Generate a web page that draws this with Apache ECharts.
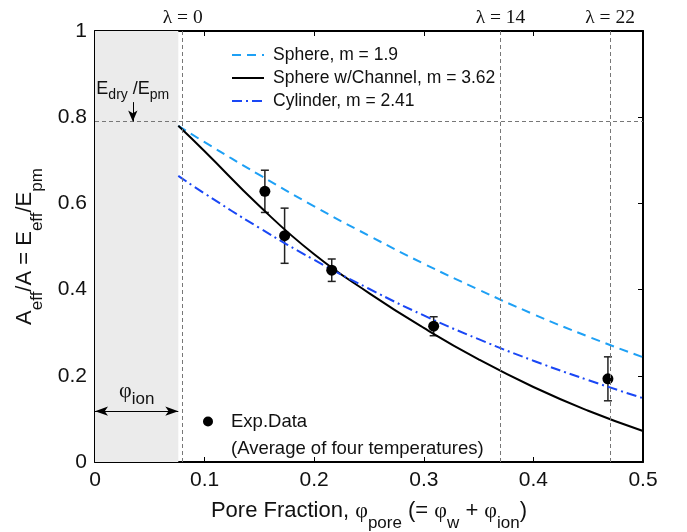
<!DOCTYPE html>
<html>
<head>
<meta charset="utf-8">
<script src="https://cdn.jsdelivr.net/npm/echarts@6/dist/echarts.min.js"></script>
<style>
  html, body { margin: 0; padding: 0; background: #fff; }
  #chart { width: 687px; height: 532px; }
</style>
</head>
<body>
<div id="chart"></div>
<script>
// model curves
const curveX = [0.076, 0.1, 0.15, 0.2, 0.25, 0.3, 0.35, 0.4, 0.45, 0.5]
const sphere = [0.78, 0.742, 0.666, 0.593, 0.525, 0.460, 0.400, 0.343, 0.291, 0.243]
const channel = [0.78, 0.721, 0.594, 0.482, 0.392, 0.311, 0.238, 0.174, 0.119, 0.072]
const cylinder = [0.664, 0.623, 0.543, 0.469, 0.402, 0.340, 0.285, 0.235, 0.190, 0.148]

// experimental averages with error bars
const expX = [0.155, 0.173, 0.216, 0.309, 0.468]
const expY = [0.628, 0.525, 0.445, 0.315, 0.193]
const expLo = [0.579, 0.461, 0.419, 0.293, 0.142]
const expHi = [0.677, 0.589, 0.471, 0.337, 0.244]

// reference lines
const lambdaX = [0.076, 0.37, 0.469]
const lambdaLabels = ['λ = 0', 'λ = 14', 'λ = 22']
const dryRatio = 0.788
const ionFraction = 0.076

const xTicks = { min: 0, max: 0.5, interval: 0.1 }
const yTicks = { min: 0, max: 1, interval: 0.2 }

const FONT = 'Liberation Sans'
const SERIF = 'Liberation Serif'

const zip = (xs, ys) => xs.map((x, i) => [x, ys[i]])

// subscripts: the small token sits at the bottom of a taller line
const titleRich = {
  m: { fontSize: 22, fontFamily: FONT, lineHeight: 22, verticalAlign: 'top', color: '#111' },
  g: { fontSize: 22, fontFamily: SERIF, lineHeight: 22, verticalAlign: 'top', color: '#111' },
  s: { fontSize: 17, fontFamily: FONT, lineHeight: 32, verticalAlign: 'bottom', color: '#111' },
}

const chart = echarts.init(document.getElementById('chart'))

const frameAxis = {
  type: 'value',
  axisLine: { show: true, onZero: false, lineStyle: { color: '#000', width: 2 } },
  axisTick: { show: true, inside: true, length: 5, lineStyle: { color: '#000', width: 1 } },
  splitLine: { show: false },
}

chart.setOption({
  animation: false,
  backgroundColor: '#fff',
  grid: { left: 95, right: 44, top: 31, bottom: 70, containLabel: false, outerBoundsMode: 'none' },
  legend: [
    {
      data: ['Sphere, m = 1.9', 'Sphere w/Channel, m = 3.62', 'Cylinder, m = 2.41'],
      orient: 'vertical',
      left: 226,
      top: 41,
      itemWidth: 32,
      itemHeight: 14,
      itemGap: 5,
      itemStyle: { color: 'transparent', borderColor: 'transparent', borderWidth: 0 },
      textStyle: { fontSize: 17.5, fontFamily: FONT, color: '#111', padding: [0, 0, 0, 4] },
    },
    {
      data: [{ name: 'Exp.Data', icon: 'circle' }],
      left: 198,
      top: 376,
      itemWidth: 10,
      itemHeight: 10,
      formatter: () => '\u00a0\nExp.Data\n(Average of four temperatures)',
      textStyle: { fontSize: 18.5, fontFamily: FONT, color: '#111', lineHeight: 27, padding: [0, 0, 0, 13] },
    },
  ],
  xAxis: [
    Object.assign({}, frameAxis, {
      ...xTicks,
      position: 'bottom',
      axisLabel: { fontSize: 21, fontFamily: FONT, color: '#111', margin: 8 },
      name: '{m|Pore Fraction, }{g|φ}{s|pore}{m| (= }{g|φ}{s|w}{m| + }{g|φ}{s|ion}{m|)}',
      nameLocation: 'middle',
      nameGap: 38,
      nameTextStyle: { rich: titleRich },
    }),
    Object.assign({}, frameAxis, { ...xTicks, position: 'top', axisLabel: { show: false } }),
  ],
  yAxis: [
    Object.assign({}, frameAxis, {
      ...yTicks,
      position: 'left',
      axisLabel: { fontSize: 21, fontFamily: FONT, color: '#111', margin: 8 },
      name: '{m|A}{s|eff}{m|/A = E}{s|eff}{m|/E}{s|pm}',
      nameLocation: 'middle',
      nameRotate: 90,
      nameGap: 49,
      nameTextStyle: { rich: titleRich },
    }),
    Object.assign({}, frameAxis, { ...yTicks, position: 'right', axisLabel: { show: false } }),
  ],
  series: [
    {
      // guides, shaded ionomer region and annotations
      name: 'guides',
      type: 'line',
      data: [],
      silent: true,
      markArea: {
        silent: true,
        itemStyle: { color: '#ebebeb' },
        data: [[{ xAxis: 0 }, { xAxis: ionFraction }]],
      },
      markLine: {
        silent: true,
        symbol: 'none',
        lineStyle: { color: '#777', width: 1, type: [4, 3] },
        label: { show: false },
        data: [
          ...lambdaX.map((x, i) => ({
            xAxis: x,
            label: {
              show: true,
              position: 'end',
              distance: 3,
              formatter: lambdaLabels[i],
              fontFamily: SERIF,
              fontSize: 19.5,
              color: '#111',
            },
          })),
          { yAxis: dryRatio },
          [
            {
              coord: [0.0345, 0.835],
              symbol: 'none',
              lineStyle: { color: '#000', type: 'solid', width: 1 },
              label: {
                show: true,
                position: 'start',
                distance: 0,
                formatter: '{m|E}{s|dry}{m| /E}{s|pm}',
                rich: {
                  m: { fontSize: 18, fontFamily: FONT, lineHeight: 18, verticalAlign: 'top', color: '#111' },
                  s: { fontSize: 14, fontFamily: FONT, lineHeight: 22, verticalAlign: 'bottom', color: '#111' },
                },
              },
            },
            { coord: [0.0345, 0.79], symbol: 'arrow', symbolSize: [7, 11] },
          ],
          [
            {
              coord: [0, 0.118],
              symbol: 'arrow',
              symbolSize: [7, 13],
              lineStyle: { color: '#000', type: 'solid', width: 1 },
              label: {
                show: true,
                position: 'insideMiddleTop',
                distance: 3,
                formatter: '{g|φ}{s|ion}',
                rich: {
                  g: { fontSize: 22, fontFamily: SERIF, lineHeight: 22, verticalAlign: 'top', color: '#111' },
                  s: { fontSize: 17, fontFamily: FONT, lineHeight: 28, verticalAlign: 'bottom', color: '#111' },
                },
              },
            },
            { coord: [ionFraction, 0.118], symbol: 'arrow', symbolSize: [7, 13] },
          ],
        ],
      },
    },
    {
      name: 'Sphere, m = 1.9',
      type: 'line',
      data: zip(curveX, sphere),
      smooth: true,
      symbol: 'none',
      lineStyle: { color: '#1ea0f5', width: 2, type: [9, 6] },
      itemStyle: { color: '#1ea0f5' },
    },
    {
      name: 'Sphere w/Channel, m = 3.62',
      type: 'line',
      data: zip(curveX, channel),
      smooth: true,
      symbol: 'none',
      lineStyle: { color: '#000', width: 2 },
      itemStyle: { color: '#000' },
    },
    {
      name: 'Cylinder, m = 2.41',
      type: 'line',
      data: zip(curveX, cylinder),
      smooth: true,
      symbol: 'none',
      lineStyle: { color: '#1a47f5', width: 2, type: [10, 4, 2, 4] },
      itemStyle: { color: '#1a47f5' },
    },
    {
      name: 'errors',
      type: 'custom',
      silent: true,
      data: expX.map((x, i) => [x, expLo[i], expHi[i]]),
      renderItem: (params, api) => {
        const top = api.coord([api.value(0), api.value(2)])
        const bot = api.coord([api.value(0), api.value(1)])
        const w = 4
        const style = { stroke: '#222', lineWidth: 1.5 }
        return {
          type: 'group',
          children: [
            { type: 'line', shape: { x1: top[0], y1: top[1], x2: bot[0], y2: bot[1] }, style },
            { type: 'line', shape: { x1: top[0] - w, y1: top[1], x2: top[0] + w, y2: top[1] }, style },
            { type: 'line', shape: { x1: bot[0] - w, y1: bot[1], x2: bot[0] + w, y2: bot[1] }, style },
          ],
        }
      },
      z: 3,
    },
    {
      name: 'Exp.Data',
      type: 'scatter',
      data: zip(expX, expY),
      symbol: 'circle',
      symbolSize: 11,
      itemStyle: { color: '#000', opacity: 1 },
      z: 4,
    },
  ],
})
</script>
</body>
</html>
